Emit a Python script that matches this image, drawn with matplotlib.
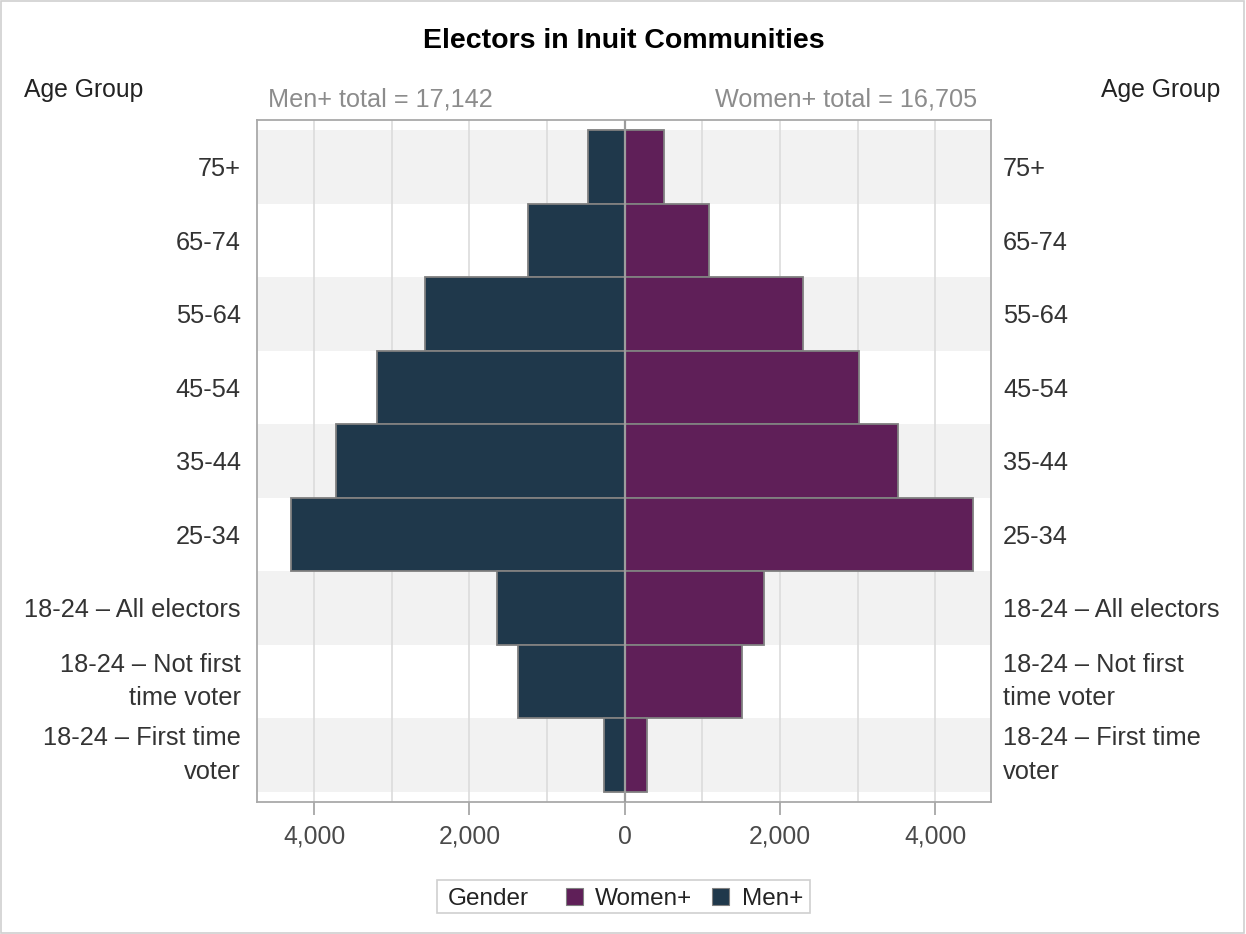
import matplotlib
matplotlib.use("Agg")
import matplotlib.pyplot as plt
from matplotlib.patches import Rectangle
import numpy as np

# Electors by age group, top row first
age_groups = [
    "75+",
    "65-74",
    "55-64",
    "45-54",
    "35-44",
    "25-34",
    "18-24 \u2013 All electors",
    "18-24 \u2013 Not first\ntime voter",
    "18-24 \u2013 First time\nvoter",
]
men = [472, 1250, 2571, 3194, 3719, 4293, 1643, 1373, 270]
women = [506, 1084, 2293, 3022, 3527, 4482, 1791, 1509, 282]
# The last two rows split the "All electors" row, so totals use the first seven
n_total_rows = 7
x_ticks = [-4000, -2000, 0, 2000, 4000]
x_tick_labels = ["4,000", "2,000", "0", "2,000", "4,000"]

MEN_COLOR = "#1f384b"
WOMEN_COLOR = "#5f1f58"
EDGE = "#808080"
BAND = "#f2f2f2"
GRID = "#dcdcdc"

plt.rcParams["font.family"] = ["Liberation Sans", "DejaVu Sans"]

W, H = 1246, 934
fig = plt.figure(figsize=(W / 100, H / 100), dpi=100)
fig.patch.set_facecolor("white")

ax_l, ax_r, ax_t, ax_b = 256.7, 990.7, 120.0, 801.7
ax = fig.add_axes([ax_l / W, 1 - ax_b / H, (ax_r - ax_l) / W, (ax_b - ax_t) / H])

y = np.arange(len(age_groups))
pad = 0.136
ax.set_ylim(len(age_groups) - 0.5 + pad, -0.5 - pad)
ax.set_xlim(-4740, 4715)

# alternating row bands
for i in y:
    if i % 2 == 0:
        ax.axhspan(i - 0.5, i + 0.5, color=BAND, lw=0, zorder=0)

# vertical grid every 1,000
for gx in range(-4000, 4001, 1000):
    if gx != 0:
        ax.axvline(gx, color=GRID, lw=1.2, zorder=0.5)

ax.barh(y, -np.array(men), height=1.0, color=MEN_COLOR, edgecolor=EDGE,
        linewidth=1.3, zorder=2)
ax.barh(y, np.array(women), height=1.0, color=WOMEN_COLOR, edgecolor=EDGE,
        linewidth=1.3, zorder=2)
ax.axvline(0, color="#9c9c9c", lw=1.6, zorder=3)

for s in ax.spines.values():
    s.set_color("#a9a9a9")
    s.set_linewidth(1.3)

# x ticks; the value labels sit under each tick mark
TICK_LEN = 9.5
ax.set_xticks(x_ticks)
ax.set_xticklabels([])
ax.tick_params(axis="x", length=TICK_LEN, width=1.2, color="#a0a0a0")
for xv, lbl in zip(x_ticks, x_tick_labels):
    ax.annotate(lbl, xy=(xv, 0), xycoords=("data", "axes fraction"),
                xytext=(0, -(TICK_LEN + 7.2)), textcoords="offset points",
                ha="center", va="top", fontsize=17.8, color="#4a4a4a",
                annotation_clip=False)

LABEL_SIZE = 18.3


def style_row_labels(axis):
    for lbl in axis.get_yticklabels():
        lbl.set_linespacing(1.5)
        if "\n" in lbl.get_text():
            lbl.set_verticalalignment("center")


ax.set_yticks(y)
ax.set_yticklabels(age_groups)
ax.tick_params(axis="y", length=0, pad=11.5, labelsize=LABEL_SIZE,
               labelcolor="#333333")
style_row_labels(ax)

# same labels repeated on the right-hand side
ax2 = ax.twinx()
ax2.set_ylim(ax.get_ylim())
ax2.set_yticks(y)
ax2.set_yticklabels(age_groups)
ax2.tick_params(axis="y", length=0, pad=8.9, labelsize=LABEL_SIZE,
                labelcolor="#333333")
style_row_labels(ax2)
for s in ax2.spines.values():
    s.set_visible(False)

men_total = sum(men[:n_total_rows])
women_total = sum(women[:n_total_rows])

fig.text(623.7 / W, 1 - 48.5 / H, "Electors in Inuit Communities", ha="center",
         va="baseline", fontsize=20.5, fontweight="bold", color="black")
fig.text(24 / W, 1 - 97.3 / H, "Age Group", ha="left", va="baseline",
         fontsize=17.8, color="#222222")
fig.text(1220 / W, 1 - 97.3 / H, "Age Group", ha="right", va="baseline",
         fontsize=17.8, color="#222222")
fig.text(268 / W, 1 - 107 / H, f"Men+ total = {men_total:,}", ha="left",
         va="baseline", fontsize=18.2, color="#8c8c8c")
fig.text(977 / W, 1 - 107 / H, f"Women+ total = {women_total:,}", ha="right",
         va="baseline", fontsize=18.2, color="#8c8c8c")

# legend
def fx(px):
    return px / W

def fy(py):
    return 1 - py / H

fig.add_artist(Rectangle((fx(437), fy(913)), (810 - 437) / W, 33 / H,
                         transform=fig.transFigure, fill=False,
                         edgecolor="#cfcfcf", linewidth=1.2))
ly = 896.5
fig.text(fx(448), fy(ly), "Gender", ha="left", va="center_baseline",
         fontsize=17.5, color="#222222")
for sx, tx, col, name in [(566, 595, WOMEN_COLOR, "Women+"),
                          (712, 742, MEN_COLOR, "Men+")]:
    fig.add_artist(Rectangle((fx(sx), fy(ly + 8.5)), 17 / W, 17 / H,
                             transform=fig.transFigure, facecolor=col,
                             edgecolor="#808080", linewidth=0.8))
    fig.text(fx(tx), fy(ly), name, ha="left", va="center_baseline",
             fontsize=17.5, color="#222222")

# outer frame
fig.add_artist(Rectangle((0.6 / W, 1.5 / H), (W - 2.2) / W, (H - 2.2) / H,
                         transform=fig.transFigure, fill=False,
                         edgecolor="#d0d0d0", linewidth=1.2))

fig.savefig("out.png", dpi=100, facecolor="white")
